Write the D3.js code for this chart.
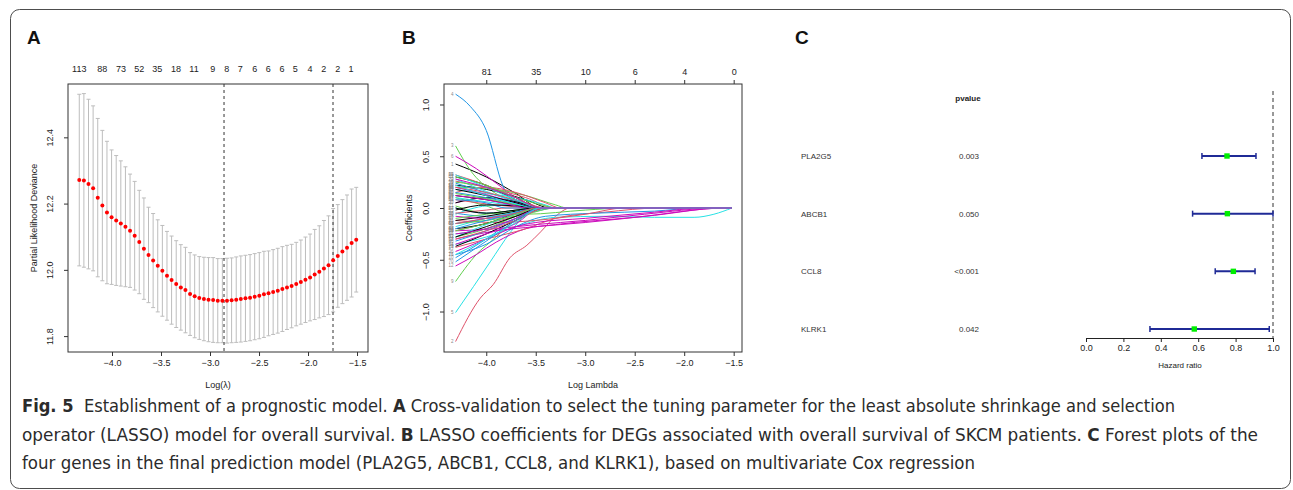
<!DOCTYPE html>
<html>
<head>
<meta charset="utf-8">
<script src="https://cdn.jsdelivr.net/npm/d3@7"></script>
<style>
  body { margin: 0; background: #fff; }
  text { font-family: "Liberation Sans", Arial, sans-serif; }
  .cap { font-family: "Liberation Sans Narrow", "DejaVu Sans Condensed", "Roboto", sans-serif; }
</style>
</head>
<body>
<div id="fig"></div>
<script>
// ---- Panel A: cross-validation curve ----
const logLambdaStart = -4.334, logLambdaStep = 0.0471;
const cvm = [12.271, 12.270, 12.259, 12.246, 12.218, 12.194, 12.173, 12.159, 12.149, 12.140,
    12.130, 12.118, 12.103, 12.084, 12.064, 12.045, 12.028, 12.012, 11.997, 11.982,
    11.969, 11.957, 11.947, 11.939, 11.927, 11.920, 11.915, 11.912, 11.910, 11.909,
    11.907, 11.907, 11.907, 11.908, 11.910, 11.912, 11.914, 11.916, 11.919, 11.922,
    11.926, 11.929, 11.933, 11.937, 11.942, 11.947, 11.951, 11.957, 11.963, 11.970,
    11.977, 11.986, 11.994, 12.004, 12.014, 12.029, 12.042, 12.055, 12.067, 12.081, 12.091];
const cvsd = [0.259, 0.262, 0.256, 0.249, 0.239, 0.227, 0.215, 0.203, 0.196, 0.189,
    0.181, 0.171, 0.164, 0.156, 0.153, 0.144, 0.142, 0.139, 0.137, 0.134,
    0.133, 0.131, 0.129, 0.129, 0.125, 0.125, 0.125, 0.126, 0.127, 0.128,
    0.127, 0.127, 0.128, 0.128, 0.129, 0.130, 0.130, 0.130, 0.130, 0.130,
    0.130, 0.128, 0.128, 0.128, 0.128, 0.127, 0.126, 0.126, 0.127, 0.129,
    0.131, 0.136, 0.139, 0.145, 0.149, 0.156, 0.155, 0.157, 0.159, 0.163, 0.158];
const lambdaMinLog = -2.857, lambda1seLog = -1.745;
const nzeroLabels = ['113', '88', '73', '52', '35', '18', '11', '9', '8', '7', '6', '6', '6', '5', '4', '2', '2', '1'];
const nzeroAt = [-4.334, -4.099, -3.908, -3.721, -3.538, -3.347, -3.163, -2.972, -2.830, -2.691,
    -2.544, -2.405, -2.265, -2.130, -1.980, -1.840, -1.697, -1.561];
const cvXTicks = [-4.0, -3.5, -3.0, -2.5, -2.0, -1.5];
const cvYTicks = [11.8, 12.0, 12.2, 12.4];

// ---- Panel B: coefficient paths (knots: [log lambda, coefficient]) ----
const pathEndLog = -1.518;
const coefPaths = [
    [[-4.31, 0.425], [-4.0, 0.30], [-3.7, 0.14], [-3.45, 0]],
    [[-4.31, -1.29], [-4.06, -0.87], [-3.93, -0.74], [-3.76, -0.48], [-3.59, -0.36], [-3.45, -0.23], [-3.3, -0.08], [-3.15, 0]],
    [[-4.31, 0.60], [-4.15, 0.35], [-3.95, 0.17], [-3.7, 0.05], [-3.55, 0]],
    [[-4.31, 1.10], [-4.16, 0.98], [-4.0, 0.75], [-3.83, 0.21], [-3.7, 0.03], [-3.6, 0]],
    [[-4.31, -1.01], [-4.13, -0.76], [-3.96, -0.52], [-3.76, -0.24], [-3.6, -0.06], [-3.45, 0]],
    [[-4.31, 0.50], [-4.1, 0.38], [-3.9, 0.24], [-3.7, 0.1], [-3.45, 0]],

    [[-4.31, 0.30], [-4.0, 0.22], [-3.7, 0.08], [-3.4, 0]],
    [[-4.31, 0.26], [-4.0, 0.20], [-3.6, 0.10], [-3.3, 0]],
    [[-4.31, -0.71], [-4.06, -0.41], [-3.96, -0.33], [-3.75, -0.15], [-3.55, -0.03], [-3.4, 0]],
    [[-4.31, -0.48], [-4.0, -0.30], [-3.7, -0.10], [-3.45, 0]],
    [[-4.31, -0.35], [-4.0, -0.28], [-3.7, -0.18], [-3.3, -0.09], [-2.8, -0.08], [-2.3, -0.09], [-1.9, -0.09], [-1.7, -0.06], [-1.518, 0]],
    [[-4.31, -0.56], [-4.1, -0.45], [-3.9, -0.33], [-3.6, -0.20], [-3.3, -0.16], [-2.5, -0.09], [-1.57, 0]],

    [[-4.31, 0.22], [-4.0, 0.18], [-3.6, 0.08], [-3.35, 0]],
    [[-4.31, -0.38], [-4.0, -0.30], [-3.6, -0.20], [-3.3, -0.10], [-2.8, -0.04], [-2.25, 0]],
    [[-4.31, 0.20], [-4.0, 0.19], [-3.6, 0.12], [-3.3, 0.03], [-3.18, 0]],
    [[-4.31, -0.45], [-4.0, -0.35], [-3.7, -0.18], [-3.4, -0.08], [-2.9, -0.05], [-2.3, -0.03], [-1.85, 0]],
    [[-4.31, -0.25], [-4.0, -0.20], [-3.7, -0.10], [-3.4, 0]],
    [[-4.31, -0.30], [-3.9, -0.22], [-3.5, -0.18], [-3.0, -0.14], [-2.3, -0.07], [-1.6, 0]],

    [[-4.31, -0.37], [-4.0, -0.25], [-3.7, -0.12], [-3.4, 0]],
    [[-4.31, 0.15], [-4.0, 0.20], [-3.7, 0.15], [-3.4, 0.05], [-3.25, 0]],
    [[-4.31, 0.02], [-4.0, -0.05], [-3.6, -0.06], [-3.0, -0.02], [-2.6, 0]],
    [[-4.31, 0.24], [-4.0, 0.15], [-3.7, 0.07], [-3.4, 0]],
    [[-4.31, 0.18], [-4.0, 0.14], [-3.7, 0.10], [-3.4, 0.03], [-3.3, 0]],
    [[-4.31, -0.22], [-3.9, -0.20], [-3.5, -0.16], [-3.0, -0.12], [-2.4, -0.06], [-1.65, 0]],

    [[-4.31, 0.12], [-4.0, 0.08], [-3.7, 0.03], [-3.5, 0]],
    [[-4.31, -0.12], [-3.9, -0.14], [-3.5, -0.12], [-3.0, -0.06], [-2.6, 0]],
    [[-4.31, 0.10], [-4.0, 0.02], [-3.8, -0.04], [-3.6, -0.03], [-3.4, 0]],
    [[-4.31, -0.05], [-4.0, -0.08], [-3.6, -0.05], [-3.3, 0]],
    [[-4.31, 0.28], [-4.0, 0.16], [-3.7, 0.06], [-3.45, 0]],
    [[-4.31, 0.05], [-4.0, 0.10], [-3.7, 0.05], [-3.45, 0]],

    [[-4.31, -0.12], [-4.0, -0.08], [-3.7, -0.03], [-3.5, 0]],
    [[-4.31, 0.32], [-4.0, 0.22], [-3.7, 0.10], [-3.45, 0]],
    [[-4.31, -0.28], [-4.0, -0.20], [-3.7, -0.08], [-3.45, 0]],
    [[-4.31, 0.00], [-4.0, -0.05], [-3.7, -0.02], [-3.55, 0]],
    [[-4.31, -0.18], [-4.0, -0.10], [-3.7, -0.04], [-3.5, 0]],
    [[-4.31, -0.42], [-4.0, -0.30], [-3.7, -0.18], [-3.5, -0.14], [-3.0, -0.10], [-2.3, -0.04], [-1.8, 0]],

    [[-4.31, 0.05], [-4.0, 0.10], [-3.7, 0.06], [-3.45, 0]],
    [[-4.31, -0.22], [-4.0, -0.15], [-3.7, -0.08], [-3.45, 0]],
    [[-4.31, 0.25], [-4.0, 0.20], [-3.7, 0.10], [-3.4, 0.02], [-3.3, 0]],
    [[-4.31, 0.15], [-4.0, 0.10], [-3.7, 0.04], [-3.5, 0]],
    [[-4.31, -0.06], [-4.0, 0.02], [-3.7, 0.03], [-3.5, 0]],
    [[-4.31, 0.20], [-4.0, 0.13], [-3.7, 0.05], [-3.5, 0]],

    [[-4.31, -0.20], [-4.0, -0.15], [-3.7, -0.05], [-3.5, 0]],
    [[-4.31, 0.08], [-4.0, 0.04], [-3.7, 0.01], [-3.6, 0]],
    [[-4.31, -0.15], [-4.0, -0.12], [-3.6, -0.06], [-3.3, 0]],
    [[-4.31, -0.32], [-4.0, -0.22], [-3.7, -0.10], [-3.45, 0]],
    [[-4.31, 0.10], [-4.0, 0.06], [-3.7, 0.02], [-3.55, 0]],
    [[-4.31, -0.08], [-4.0, -0.10], [-3.7, -0.06], [-3.45, 0]],

    [[-4.31, 0.18], [-4.0, 0.12], [-3.7, 0.05], [-3.5, 0]],
    [[-4.31, -0.05], [-4.0, -0.02], [-3.8, 0]],
    [[-4.31, 0.14], [-4.0, 0.09], [-3.7, 0.03], [-3.55, 0]],
    [[-4.31, 0.08], [-4.0, 0.05], [-3.8, 0]],
    [[-4.31, -0.28], [-4.0, -0.16], [-3.7, -0.06], [-3.5, 0]],
    [[-4.31, -0.35], [-4.0, -0.25], [-3.7, -0.15], [-3.45, 0]],

    [[-4.31, -0.02], [-4.0, 0.03], [-3.7, 0.02], [-3.5, 0]],
    [[-4.31, 0.20], [-4.0, 0.15], [-3.6, 0.05], [-3.4, 0]],
    [[-4.31, -0.10], [-4.0, -0.06], [-3.7, -0.02], [-3.55, 0]],
    [[-4.31, -0.20], [-4.0, -0.12], [-3.7, -0.05], [-3.5, 0]],
    [[-4.31, 0.22], [-4.0, 0.12], [-3.7, 0.04], [-3.5, 0]],
    [[-4.31, 0.12], [-4.0, 0.08], [-3.7, 0.02], [-3.6, 0]],

    [[-4.31, -0.28], [-4.0, -0.18], [-3.7, -0.08], [-3.45, 0]],
    [[-4.31, -0.30], [-4.0, -0.22], [-3.7, -0.12], [-3.4, 0]],
    [[-4.31, 0.30], [-4.0, 0.22], [-3.7, 0.10], [-3.45, 0]],
    [[-4.31, -0.15], [-4.0, -0.10], [-3.7, -0.04], [-3.55, 0]],
    [[-4.31, 0.32], [-4.0, 0.20], [-3.7, 0.08], [-3.45, 0]],
    [[-4.31, -0.25], [-4.0, -0.20], [-3.7, -0.10], [-3.45, 0]],

    [[-4.31, 0.00], [-4.0, -0.05], [-3.7, -0.02], [-3.5, 0]],
    [[-4.31, -0.15], [-4.0, -0.10], [-3.7, -0.05], [-3.5, 0]],
    [[-4.31, -0.22], [-4.0, -0.15], [-3.7, -0.06], [-3.45, 0]],
    [[-4.31, -0.52], [-4.0, -0.32], [-3.7, -0.12], [-3.45, 0]],
    [[-4.31, -0.45], [-4.0, -0.30], [-3.7, -0.14], [-3.45, 0]],
    [[-4.31, 0.28], [-4.0, 0.20], [-3.7, 0.10], [-3.45, 0]],
];
const coefXTicks = [-4.0, -3.5, -3.0, -2.5, -2.0, -1.5];
const coefYTicks = [-1.0, -0.5, 0.0, 0.5, 1.0];
const coefTopLabels = ['81', '35', '10', '6', '4', '0'];
const palette = ['#000000', '#DF536B', '#61D04F', '#2297E6', '#28E2E5', '#CD0BBC'];

// ---- Panel C: forest plot ----
const genes = ['PLA2G5', 'ABCB1', 'CCL8', 'KLRK1'];
const pvalues = ['0.003', '0.050', '<0.001', '0.042'];
const hr = [0.754, 0.756, 0.788, 0.579];
const hrLow = [0.620, 0.570, 0.691, 0.342];
const hrHigh = [0.909, 1.000, 0.904, 0.980];
const hrTicks = [0.0, 0.2, 0.4, 0.6, 0.8, 1.0];

const captionLines = [
    [['Fig. 5', true], ['  Establishment of a prognostic model. ', false], ['A', true], [' Cross-validation to select the tuning parameter for the least absolute shrinkage and selection', false]],
    [['operator (LASSO) model for overall survival. ', false], ['B', true], [' LASSO coefficients for DEGs associated with overall survival of SKCM patients. ', false], ['C', true], [' Forest plots of the', false]],
    [['four genes in the final prediction model (PLA2G5, ABCB1, CCL8, and KLRK1), based on multivariate Cox regression', false]],
];

const W = 1293, H = 490;
const svg = d3.select('#fig').append('svg')
    .attr('width', W).attr('height', H);

// outer frame
svg.append('rect')
    .attr('x', 10.5).attr('y', 9.5)
    .attr('width', 1280).attr('height', 479)
    .attr('rx', 9)
    .attr('fill', 'none').attr('stroke', '#4d4d4d').attr('stroke-width', 1);

// panel letters
[['A', 27], ['B', 402], ['C', 795]].forEach(function (p) {
    svg.append('text').attr('x', p[1]).attr('y', 44)
        .attr('font-size', 19).attr('font-weight', 'bold')
        .attr('font-family', '"Open Sans", "Liberation Sans", sans-serif')
        .attr('fill', '#111').text(p[0]);
});

const axisText = '#222';
const fs = 9;

// ================= Panel A =================
const ax = d3.scaleLinear().domain([-4.449, -1.388]).range([68, 368]);
const ay = d3.scaleLinear().domain([11.752, 12.561]).range([352, 84]);
const gA = svg.append('g');

const cvData = cvm.map(function (m, i) {
    return { x: logLambdaStart + i * logLambdaStep, m: m, sd: cvsd[i] };
});

// error bars
const bars = gA.append('g').attr('stroke', '#bdbdbd').attr('stroke-width', 1);
cvData.forEach(function (d) {
    const x = ax(d.x);
    bars.append('line').attr('x1', x).attr('x2', x)
        .attr('y1', ay(d.m - d.sd)).attr('y2', ay(d.m + d.sd));
    [d.m - d.sd, d.m + d.sd].forEach(function (v) {
        bars.append('line').attr('x1', x - 2).attr('x2', x + 2)
            .attr('y1', ay(v)).attr('y2', ay(v));
    });
});

// dashed lambda lines
[lambdaMinLog, lambda1seLog].forEach(function (v) {
    gA.append('line').attr('x1', ax(v)).attr('x2', ax(v))
        .attr('y1', 84).attr('y2', 352)
        .attr('stroke', '#333').attr('stroke-width', 1)
        .attr('stroke-dasharray', '3,3');
});

// points
gA.append('g').selectAll('circle').data(cvData).enter().append('circle')
    .attr('cx', d => ax(d.x)).attr('cy', d => ay(d.m))
    .attr('r', 2).attr('fill', '#ff0000');

// box
gA.append('rect').attr('x', 68).attr('y', 84).attr('width', 300).attr('height', 268)
    .attr('fill', 'none').attr('stroke', '#333').attr('stroke-width', 1);

// axes
gA.append('g').attr('transform', 'translate(0,352)')
    .call(d3.axisBottom(ax).tickValues(cvXTicks).tickFormat(d3.format('.1f')).tickSize(4).tickPadding(4))
    .call(g => g.select('.domain').remove())
    .call(g => g.selectAll('text').attr('font-size', fs).attr('fill', axisText).attr('font-family', '"Liberation Sans", Arial, sans-serif'))
    .call(g => g.selectAll('line').attr('stroke', '#333'));

const yA = gA.append('g').attr('transform', 'translate(68,0)')
    .call(d3.axisLeft(ay).tickValues(cvYTicks).tickFormat(d3.format('.1f')).tickSize(4))
    .call(g => g.select('.domain').remove())
    .call(g => g.selectAll('line').attr('stroke', '#333'));
yA.selectAll('text').attr('font-size', fs).attr('fill', axisText)
    .attr('font-family', '"Liberation Sans", Arial, sans-serif')
    .attr('text-anchor', 'middle').attr('dy', 0).attr('x', 0)
    .attr('transform', 'translate(-15,0) rotate(-90)');

// top nzero labels
gA.append('g').selectAll('text').data(nzeroLabels).enter().append('text')
    .attr('x', (d, i) => ax(nzeroAt[i])).attr('y', 72)
    .attr('text-anchor', 'middle').attr('font-size', fs).attr('fill', axisText)
    .text(d => d);

gA.append('text').attr('transform', 'translate(37,218) rotate(-90)')
    .attr('text-anchor', 'middle').attr('font-size', fs).attr('fill', axisText)
    .text('Partial Likelihood Deviance');
gA.append('text').attr('x', 218).attr('y', 388)
    .attr('text-anchor', 'middle').attr('font-size', fs).attr('fill', axisText)
    .text('Log(\u03BB)');

// ================= Panel B =================
const bx = d3.scaleLinear().domain([-4.427, -1.416]).range([444, 742]);
const by = d3.scaleLinear().domain([-1.391, 1.198]).range([352, 84]);
const gB = svg.append('g');

const coefLine = d3.line()
    .x(d => bx(d[0])).y(d => by(d[1]))
    .curve(d3.curveMonotoneX);

gB.append('g').selectAll('path').data(coefPaths).enter().append('path')
    .attr('d', function (d) {
        const pts = d.slice();
        if (pts[pts.length - 1][0] < pathEndLog) pts.push([pathEndLog, 0]);
        return coefLine(pts);
    })
    .attr('fill', 'none')
    .attr('stroke', (d, i) => palette[i % palette.length])
    .attr('stroke-width', 1);

// variable labels at path starts
gB.append('g').selectAll('text').data(coefPaths).enter().append('text')
    .attr('x', d => bx(d[0][0]) - 2).attr('y', d => by(d[0][1]) + 1.5)
    .attr('text-anchor', 'end').attr('font-size', 4.5).attr('fill', '#888')
    .text((d, i) => i + 1);

gB.append('rect').attr('x', 444).attr('y', 84).attr('width', 298).attr('height', 268)
    .attr('fill', 'none').attr('stroke', '#333').attr('stroke-width', 1);

gB.append('g').attr('transform', 'translate(0,352)')
    .call(d3.axisBottom(bx).tickValues(coefXTicks).tickFormat(d3.format('.1f')).tickSize(4).tickPadding(4))
    .call(g => g.select('.domain').remove())
    .call(g => g.selectAll('text').attr('font-size', fs).attr('fill', axisText).attr('font-family', '"Liberation Sans", Arial, sans-serif'))
    .call(g => g.selectAll('line').attr('stroke', '#333'));

gB.append('g').attr('transform', 'translate(0,84)')
    .call(d3.axisTop(bx).tickValues(coefXTicks).tickFormat((d, i) => coefTopLabels[i]).tickSize(4).tickPadding(5))
    .call(g => g.select('.domain').remove())
    .call(g => g.selectAll('text').attr('font-size', fs).attr('fill', axisText).attr('font-family', '"Liberation Sans", Arial, sans-serif'))
    .call(g => g.selectAll('line').attr('stroke', '#333'));

const yB = gB.append('g').attr('transform', 'translate(444,0)')
    .call(d3.axisLeft(by).tickValues(coefYTicks).tickFormat(d3.format('.1f')).tickSize(4))
    .call(g => g.select('.domain').remove())
    .call(g => g.selectAll('line').attr('stroke', '#333'));
yB.selectAll('text').attr('font-size', fs).attr('fill', axisText)
    .attr('font-family', '"Liberation Sans", Arial, sans-serif')
    .attr('text-anchor', 'middle').attr('dy', 0).attr('x', 0)
    .attr('transform', 'translate(-15,0) rotate(-90)');

gB.append('text').attr('transform', 'translate(412,218) rotate(-90)')
    .attr('text-anchor', 'middle').attr('font-size', fs).attr('fill', axisText)
    .text('Coefficients');
gB.append('text').attr('x', 593).attr('y', 388)
    .attr('text-anchor', 'middle').attr('font-size', fs).attr('fill', axisText)
    .text('Log Lambda');

// ================= Panel C =================
const cx = d3.scaleLinear().domain([0, 1]).range([1086, 1273]);
const cy = d3.scalePoint().domain(genes).range([156, 329]);
const gC = svg.append('g');

gC.append('text').attr('x', 968).attr('y', 101).attr('text-anchor', 'middle')
    .attr('font-size', 8).attr('font-weight', 'bold').attr('fill', '#222').text('pvalue');

gC.append('g').selectAll('text').data(genes).enter().append('text')
    .attr('x', 801).attr('y', d => cy(d) + 3).attr('font-size', 8).attr('fill', '#333')
    .text(d => d);
gC.append('g').selectAll('text').data(pvalues).enter().append('text')
    .attr('x', 979).attr('y', (d, i) => cy(genes[i]) + 3).attr('text-anchor', 'end')
    .attr('font-size', 8).attr('fill', '#333')
    .text(d => d);

gC.append('line').attr('x1', cx(1)).attr('x2', cx(1)).attr('y1', 91).attr('y2', 338)
    .attr('stroke', '#333').attr('stroke-dasharray', '4,3');

genes.forEach(function (g, i) {
    const y = cy(g);
    gC.append('line').attr('x1', cx(hrLow[i])).attr('x2', cx(hrHigh[i]))
        .attr('y1', y).attr('y2', y).attr('stroke', '#1f2a96').attr('stroke-width', 2);
    [hrLow[i], hrHigh[i]].forEach(function (v) {
        gC.append('line').attr('x1', cx(v)).attr('x2', cx(v))
            .attr('y1', y - 3).attr('y2', y + 3).attr('stroke', '#1f2a96').attr('stroke-width', 1.5);
    });
    gC.append('rect').attr('x', cx(hr[i]) - 2.7).attr('y', y - 2.7)
        .attr('width', 5.4).attr('height', 5.4).attr('fill', '#00ee00');
});

gC.append('g').attr('transform', 'translate(0,338)')
    .call(d3.axisBottom(cx).tickValues(hrTicks).tickFormat(d3.format('.1f')).tickSize(4).tickPadding(3))
    .call(g => g.select('.domain').attr('stroke', '#222'))
    .call(g => g.selectAll('text').attr('font-size', 9).attr('fill', axisText).attr('font-family', '"Liberation Sans", Arial, sans-serif'))
    .call(g => g.selectAll('line').attr('stroke', '#222'));
gC.append('text').attr('x', 1180).attr('y', 368).attr('text-anchor', 'middle')
    .attr('font-size', 8).attr('fill', axisText).text('Hazard ratio');

// ================= Caption =================
const capWidths = [1153, 1236, 953];
const capY = [412, 441, 469];
captionLines.forEach(function (line, li) {
    const t = svg.append('text').attr('class', 'cap')
        .attr('x', 22).attr('y', capY[li])
        .attr('font-size', 18).attr('fill', '#2b2b2b')
        .attr('textLength', capWidths[li]).attr('lengthAdjust', 'spacingAndGlyphs')
        .attr('xml:space', 'preserve');
    line.forEach(function (seg) {
        t.append('tspan').attr('font-weight', seg[1] ? 'bold' : 'normal').text(seg[0]);
    });
});
</script>
</body>
</html>
